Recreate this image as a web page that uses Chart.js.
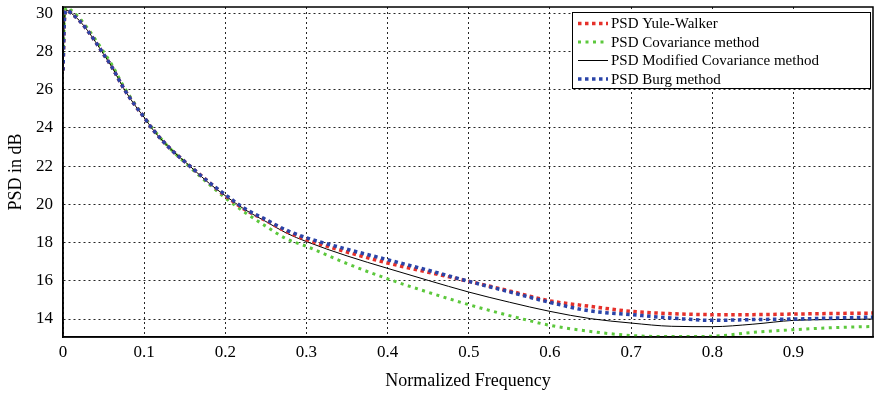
<!DOCTYPE html>
<html>
<head>
<meta charset="utf-8">
<script src="https://cdn.jsdelivr.net/npm/chart.js@4.4.1/dist/chart.umd.min.js"></script>
<style>
  html, body { margin: 0; padding: 0; background: #fff; }
  #wrap { width: 880px; height: 394px; }
</style>
</head>
<body>
<div id="wrap"><canvas id="chart" width="880" height="394"></canvas></div>
<script>
const freq = [0, 0.002, 0.005, 0.01, 0.02, 0.03, 0.04, 0.05, 0.06, 0.075, 0.09, 0.1, 0.11, 0.13, 0.155, 0.18,
  0.2, 0.225, 0.25, 0.275, 0.3, 0.35, 0.4, 0.45, 0.5, 0.55, 0.6, 0.65, 0.7, 0.75, 0.8, 0.85, 0.9, 0.95, 0.998];

// PSD in dB for each method
const yuleWalker = [27.0, 29.8, 30.15, 30.0, 29.62, 29.1, 28.5, 27.85, 27.2, 26.05, 25.1, 24.55, 23.95, 23.0, 22.05, 21.15,
  20.45, 19.7, 19.15, 18.58, 18.15, 17.5, 16.93, 16.45, 15.97, 15.47, 14.95, 14.66, 14.4, 14.28, 14.23, 14.23, 14.26, 14.29, 14.31];
const covariance = [27.0, 29.95, 30.3, 30.15, 29.75, 29.22, 28.62, 27.98, 27.32, 26.15, 25.17, 24.6, 24.0, 23.0, 22.0, 21.05,
  20.33, 19.55, 18.85, 18.2, 17.8, 16.9, 16.1, 15.4, 14.75, 14.18, 13.67, 13.35, 13.14, 13.08, 13.1, 13.3, 13.44, 13.55, 13.61];
const modCovariance = [27.0, 29.8, 30.15, 30.0, 29.62, 29.1, 28.5, 27.85, 27.2, 26.05, 25.1, 24.55, 23.95, 23.0, 22.05, 21.1,
  20.45, 19.7, 19.1, 18.5, 18.05, 17.3, 16.65, 16.02, 15.41, 14.88, 14.4, 14.02, 13.79, 13.62, 13.6, 13.73, 13.93, 13.97, 14.0];
const burg = [27.0, 29.8, 30.15, 30.0, 29.62, 29.1, 28.5, 27.85, 27.2, 26.05, 25.1, 24.55, 23.95, 23.0, 22.05, 21.15,
  20.5, 19.75, 19.2, 18.65, 18.25, 17.65, 17.1, 16.55, 15.97, 15.42, 14.87, 14.42, 14.23, 14.05, 13.93, 13.97, 14.0, 14.05, 14.1];

const seriesNames = ["PSD Yule-Walker", "PSD Covariance method", "PSD Modified Covariance method", "PSD Burg method"];
const xTicks = [0, 0.1, 0.2, 0.3, 0.4, 0.5, 0.6, 0.7, 0.8, 0.9];
const xTickLabels = ["0", "0.1", "0.2", "0.3", "0.4", "0.5", "0.6", "0.7", "0.8", "0.9"];
const yTicks = [14, 16, 18, 20, 22, 24, 26, 28, 30];

const serif = '"Liberation Serif", "Times New Roman", serif';
const toPoints = arr => freq.map((f, i) => ({ x: f, y: arr[i] }));

// frame round the plot + matlab style legend box
const framePlugin = {
  id: "frame",
  afterDraw(chart) {
    const { ctx, chartArea: a } = chart;
    ctx.save();
    ctx.strokeStyle = "#000";
    ctx.lineWidth = 1.5;
    ctx.setLineDash([]);
    ctx.strokeRect(a.left, a.top, a.right - a.left, a.bottom - a.top);

    // legend
    const bx = 572, by = 12, bw = 298, bh = 76;
    ctx.fillStyle = "#fff";
    ctx.fillRect(bx, by, bw, bh);
    ctx.lineWidth = 1;
    ctx.strokeRect(bx + 0.5, by + 0.5, bw, bh);
    ctx.font = "15px " + serif;
    ctx.textBaseline = "middle";
    const rows = [23.5, 42, 60.5, 79];
    chart.data.datasets.forEach((ds, i) => {
      const y = rows[i];
      ctx.beginPath();
      ctx.strokeStyle = ds.borderColor;
      ctx.lineWidth = ds.borderWidth;
      ctx.setLineDash(ds.borderDash || []);
      ctx.moveTo(578, y);
      ctx.lineTo(608, y);
      ctx.stroke();
      ctx.setLineDash([]);
      ctx.fillStyle = "#000";
      ctx.fillText(seriesNames[i], 611, y + 1);
    });
    ctx.restore();
  }
};

const ctx = document.getElementById("chart").getContext("2d");
new Chart(ctx, {
  type: "line",
  data: {
    datasets: [
      {
        label: seriesNames[0],
        data: toPoints(yuleWalker),
        borderColor: "#e5302a",
        borderWidth: 3.5,
        borderDash: [3.5, 3.5],
        order: 1
      },
      {
        label: seriesNames[1],
        data: toPoints(covariance),
        borderColor: "#5cc83c",
        borderWidth: 3,
        borderDash: [3, 4.5],
        order: 3
      },
      {
        label: seriesNames[2],
        data: toPoints(modCovariance),
        borderColor: "#000",
        borderWidth: 1,
        order: 2
      },
      {
        label: seriesNames[3],
        data: toPoints(burg),
        borderColor: "#2a44a8",
        borderWidth: 3.5,
        borderDash: [3.5, 3.5],
        order: 0
      }
    ]
  },
  options: {
    responsive: false,
    animation: false,
    devicePixelRatio: 1,
    layout: { padding: { left: 0, right: 7, top: 7, bottom: 0 } },
    elements: {
      point: { radius: 0 },
      line: { cubicInterpolationMode: "monotone", borderCapStyle: "butt", fill: false }
    },
    plugins: {
      legend: { display: false },
      tooltip: { enabled: false }
    },
    scales: {
      x: {
        type: "linear",
        min: 0,
        max: 0.998,
        afterBuildTicks: s => { s.ticks = xTicks.map(v => ({ value: v })); },
        afterFit: s => { s.height = 57; s.paddingLeft = 0; s.paddingRight = 0; },
        ticks: {
          color: "#000",
          font: { family: serif, size: 17 },
          padding: 5,
          maxRotation: 0,
          callback: (v, i) => xTickLabels[i]
        },
        grid: { color: "rgba(0,0,0,0.85)", lineWidth: 1, drawTicks: false },
        border: { display: true, color: "#000", width: 1.5, dash: [2, 3] },
        title: {
          display: true,
          text: "Normalized Frequency",
          color: "#000",
          font: { family: serif, size: 18 },
          padding: { top: 0, bottom: 2 }
        }
      },
      y: {
        min: 13.06,
        max: 30.32,
        afterBuildTicks: s => { s.ticks = yTicks.map(v => ({ value: v })); },
        afterFit: s => { s.width = 63; s.paddingTop = 0; s.paddingBottom = 0; },
        ticks: {
          color: "#000",
          font: { family: serif, size: 17 },
          padding: 10,
          callback: v => String(v)
        },
        grid: { color: "rgba(0,0,0,0.85)", lineWidth: 1, drawTicks: false },
        border: { display: true, color: "#000", width: 1.5, dash: [2, 3] },
        title: {
          display: true,
          text: "PSD in dB",
          color: "#000",
          font: { family: serif, size: 18 },
          padding: { top: 5, bottom: 0 }
        }
      }
    }
  },
  plugins: [framePlugin]
});
</script>
</body>
</html>
